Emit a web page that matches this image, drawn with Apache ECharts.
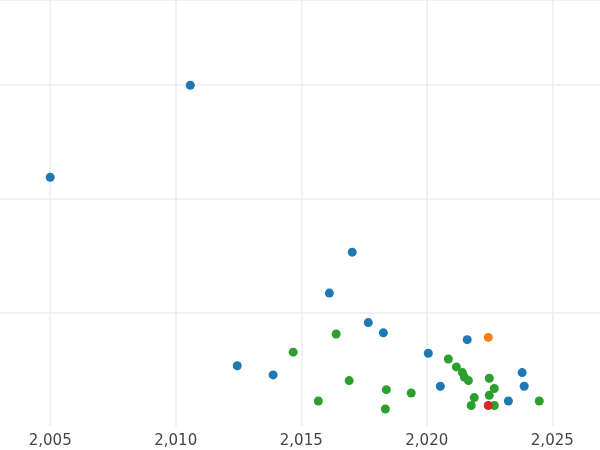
<!DOCTYPE html>
<html>
<head>
<meta charset="utf-8">
<script src="https://cdn.jsdelivr.net/npm/echarts@6/dist/echarts.min.js"></script>
<style>html,body{margin:0;padding:0;background:#fff}#c{width:600px;height:450px}</style>
</head>
<body>
<div id="c"></div>
<script>
const yearTicks = [2005, 2010, 2015, 2020, 2025];
const blue = [[2005.0,2.19],[2010.58,3.0],[2017.03,1.53],[2016.12,1.17],[2017.67,0.91],[2018.27,0.82],
  [2021.61,0.76],[2020.06,0.64],[2012.45,0.53],[2013.88,0.45],[2020.54,0.35],[2023.8,0.47],[2023.88,0.35],[2023.25,0.22]];
const orange = [[2022.45,0.78]];
const green = [[2016.39,0.81],[2014.68,0.65],[2016.91,0.40],[2015.68,0.22],[2018.39,0.32],[2018.35,0.15],
  [2019.38,0.29],[2020.86,0.59],[2021.18,0.52],[2021.42,0.47],[2021.5,0.43],[2021.66,0.40],[2022.49,0.42],
  [2022.69,0.33],[2022.49,0.27],[2021.89,0.25],[2021.77,0.18],[2022.69,0.18],[2024.48,0.22]];
const red = [[2022.45,0.18]];

const chart = echarts.init(document.getElementById('c'));
function s(data, color) {
  return { type: 'scatter', data: data, symbolSize: 9, itemStyle: { color: color, opacity: 1 } };
}
chart.setOption({
  animation: false,
  grid: { left: 0, right: 0, top: 0, bottom: 24, containLabel: false },
  xAxis: {
    type: 'value', min: 2003, max: 2026.9,
    axisLine: { show: false },
    axisTick: { show: false, customValues: yearTicks },
    axisLabel: { customValues: yearTicks, color: '#444', fontSize: 15, margin: 8, fontFamily: 'DejaVu Sans' },
    splitLine: { show: true, lineStyle: { color: '#ebebeb', width: 1.5 } }
  },
  yAxis: {
    type: 'value', min: 0, max: 3.75, interval: 1,
    axisLine: { show: false }, axisTick: { show: false }, axisLabel: { show: false },
    splitLine: { show: true, showMinLine: false, lineStyle: { color: '#ebebeb', width: 1.5 } }
  },
  series: [s(blue, '#1f77b4'), s(green, '#2ca02c'), s(orange, '#ff7f0e'), s(red, '#d62728')]
});
</script>
</body>
</html>
